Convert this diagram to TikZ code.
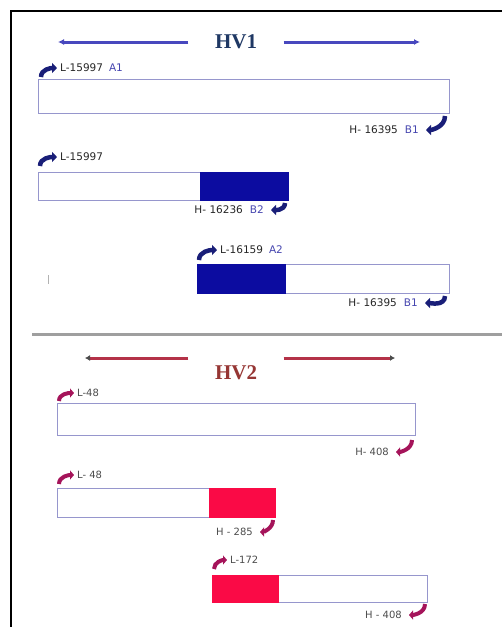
\documentclass[tikz,border=0pt]{standalone}
\usepackage{fontspec}
\setmainfont{Liberation Serif}
\setsansfont{DejaVu Sans}
\usepackage{xcolor}
\usepackage{tikz}
\usetikzlibrary{arrows.meta, positioning}
\definecolor{hvnavy}{RGB}{31,56,100}
\definecolor{hvred}{RGB}{150,54,52}
\definecolor{spanblue}{RGB}{72,72,190}
\definecolor{spanred}{RGB}{180,50,72}
\definecolor{segline}{RGB}{150,150,205}
\definecolor{segblue}{RGB}{12,12,160}
\definecolor{segred}{RGB}{250,10,70}
\definecolor{bendblue}{RGB}{25,30,120}
\definecolor{bendred}{RGB}{165,20,90}
\definecolor{tagblue}{RGB}{70,70,175}
\tikzstyle{title} = [font=\fontsize{21}{24}\selectfont\bfseries, fill=white,
    inner sep=0pt, minimum width=95pt, minimum height=34pt]
\tikzstyle{seg} = [draw=segline, line width=1.2pt, fill=white, inner sep=0pt]
\tikzstyle{segb} = [draw=segblue, fill=segblue, line width=1pt, inner sep=0pt]
\tikzstyle{segr} = [draw=segred, fill=segred, line width=1pt, inner sep=0pt]
\tikzstyle{lbl} = [font=\sffamily\fontsize{10.5}{12}\selectfont, text=black!85, inner sep=1pt]
\tikzstyle{lbls} = [font=\sffamily\fontsize{10}{12}\selectfont, text=black!70, inner sep=1pt]
\tikzstyle{spanb} = [spanblue, line width=3pt, -{Latex[length=6pt, width=6pt]}]
\tikzstyle{spanr} = [spanred, line width=3pt, -{Latex[length=5pt, width=6pt, color=black!70]}]
\tikzstyle{upb} = [bendblue, line width=4.5pt, -{Triangle[length=5pt, width=10pt]}, shorten >=2pt]
\tikzstyle{dnb} = [bendblue, line width=4.5pt, -{Triangle[length=5pt, width=10pt]}, shorten >=6pt]
\tikzstyle{upr} = [bendred, line width=4pt, -{Triangle[length=4pt, width=9pt]}, shorten >=2pt]
\tikzstyle{dnr} = [bendred, line width=4pt, -{Triangle[length=4pt, width=9pt]}, shorten >=6pt]

\begin{document}
\begin{tikzpicture}[x=1pt, y=-1pt]
  \useasboundingbox (0,0) rectangle (502,627);
  % Frame and divider
  \draw[line width=2pt] (11,627) -- (11,11) -- (502,11);
  \draw[gray!75, line width=3pt] (32,334) -- (502,334);
  \draw[gray!60, line width=0.6pt] (48,275) -- (48,284);

  % Part 1: HV1
  \node[title, text=hvnavy] (hv1) at (236,42) {HV1};
  \coordinate (hv1l) at (58,42);
  \coordinate (hv1r) at (420,42);
  \draw[spanb] (hv1.west) -- (hv1l);
  \draw[spanb] (hv1.east) -- (hv1r);

  \node[seg, anchor=north west, minimum width=411pt, minimum height=34pt] (s1) at (38,79) {};
  \node[lbl, anchor=west] (l1) at (59,68) {L-15997\hspace{6pt}\textcolor{tagblue}{A1}};
  \node[lbl, anchor=east] (h1) at (420,130) {H- 16395\hspace{7pt}\textcolor{tagblue}{B1}};
  \coordinate (l1s) at (41,77);
  \coordinate (h1s) at (445,116);
  \draw[upb] (l1s) to[out=90, in=180] (l1.west);
  \draw[dnb] (h1s) to[out=-90, in=0] (h1.east);

  \node[seg, anchor=north west, minimum width=250pt, minimum height=28pt] (s2) at (38,172) {};
  \node[segb, anchor=east, minimum width=88pt, minimum height=28pt] (f2) at (s2.east) {};
  \node[lbl, anchor=west] (l2) at (59,157) {L-15997};
  \node[lbl, anchor=east] (h2) at (265,210) {H- 16236\hspace{7pt}\textcolor{tagblue}{B2}};
  \coordinate (l2s) at (40,166);
  \coordinate (h2s) at (285,203);
  \draw[upb] (l2s) to[out=90, in=180] (l2.west);
  \draw[dnb] (h2s) to[out=-90, in=0] (h2.east);

  \node[seg, anchor=north west, minimum width=252pt, minimum height=29pt] (s3) at (197,264) {};
  \node[segb, anchor=west, minimum width=88pt, minimum height=29pt] (f3) at (s3.west) {};
  \node[lbl, anchor=west] (l3) at (219,250) {L-16159\hspace{6pt}\textcolor{tagblue}{A2}};
  \node[lbl, anchor=east] (h3) at (419,303) {H- 16395\hspace{7pt}\textcolor{tagblue}{B1}};
  \coordinate (l3s) at (199,260);
  \coordinate (h3s) at (445,296);
  \draw[upb] (l3s) to[out=90, in=180] (l3.west);
  \draw[dnb] (h3s) to[out=-90, in=0] (h3.east);

  % Part 2: HV2
  \node[title, text=hvred] (hv2) at (236,373) {HV2};
  \coordinate (hv2l) at (85,358);
  \coordinate (hv2r) at (395,358);
  \draw[spanr] (hv2.west |- hv2l) -- (hv2l);
  \draw[spanr] (hv2.east |- hv2r) -- (hv2r);

  \node[seg, anchor=north west, minimum width=358pt, minimum height=32pt] (s4) at (57,403) {};
  \node[lbls, anchor=west] (l4) at (76,393) {L-48};
  \node[lbls, anchor=east] (h4) at (390,452) {H- 408};
  \coordinate (l4s) at (59,401);
  \coordinate (h4s) at (412,440);
  \draw[upr] (l4s) to[out=90, in=180] (l4.west);
  \draw[dnr] (h4s) to[out=-90, in=0] (h4.east);

  \node[seg, anchor=north west, minimum width=218pt, minimum height=29pt] (s5) at (57,488) {};
  \node[segr, anchor=east, minimum width=66pt, minimum height=29pt] (f5) at (s5.east) {};
  \node[lbls, anchor=west] (l5) at (76,475) {L- 48};
  \node[lbls, anchor=east] (h5) at (254,532) {H - 285};
  \coordinate (l5s) at (59,484);
  \coordinate (h5s) at (273,520);
  \draw[upr] (l5s) to[out=90, in=180] (l5.west);
  \draw[dnr] (h5s) to[out=-90, in=0] (h5.east);

  \node[seg, anchor=north west, minimum width=215pt, minimum height=27pt] (s6) at (212,575) {};
  \node[segr, anchor=west, minimum width=66pt, minimum height=27pt] (f6) at (s6.west) {};
  \node[lbls, anchor=west] (l6) at (229,560) {L-172};
  \node[lbls, anchor=east] (h6) at (403,615) {H - 408};
  \coordinate (l6s) at (214,569);
  \coordinate (h6s) at (425,604);
  \draw[upr] (l6s) to[out=90, in=180] (l6.west);
  \draw[dnr] (h6s) to[out=-90, in=0] (h6.east);
\end{tikzpicture}
\end{document}
